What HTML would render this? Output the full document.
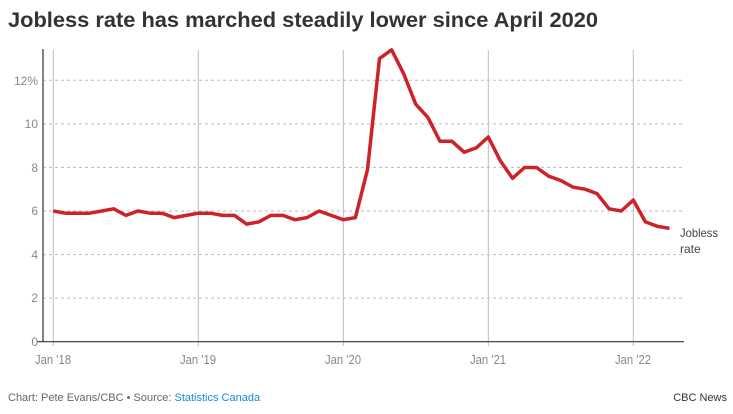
<!DOCTYPE html>
<html><head><meta charset="utf-8"><style>
body{margin:0;background:#fff;font-family:"Liberation Sans",sans-serif;}
</style></head><body>
<svg width="733" height="409" xmlns="http://www.w3.org/2000/svg" font-family="Liberation Sans, sans-serif">
<text x="8" y="27" font-size="21" font-weight="bold" fill="#333" textLength="590" lengthAdjust="spacingAndGlyphs">Jobless rate has marched steadily lower since April 2020</text>
<g stroke="#b6bec6" stroke-width="1" stroke-dasharray="3,3">
<line x1="43" x2="684" y1="80.3" y2="80.3"/><line x1="43" x2="684" y1="123.9" y2="123.9"/><line x1="43" x2="684" y1="167.4" y2="167.4"/><line x1="43" x2="684" y1="211" y2="211"/><line x1="43" x2="684" y1="254.6" y2="254.6"/><line x1="43" x2="684" y1="298.1" y2="298.1"/>
</g>
<g stroke="#b6bec6" stroke-width="1">
<line x1="53.3" x2="53.3" y1="50" y2="346"/><line x1="198.3" x2="198.3" y1="50" y2="346"/><line x1="343.3" x2="343.3" y1="50" y2="346"/><line x1="488.3" x2="488.3" y1="50" y2="346"/><line x1="633.3" x2="633.3" y1="50" y2="346"/>
</g>
<line x1="43" x2="43" y1="49" y2="341.7" stroke="#333" stroke-width="1.2"/>
<line x1="37" x2="684" y1="341.7" y2="341.7" stroke="#333" stroke-width="1.2"/>
<g font-size="12" fill="#888" text-anchor="end">
<text x="38" y="85">12%</text><text x="38" y="128">10</text><text x="38" y="172">8</text><text x="38" y="215">6</text><text x="38" y="259">4</text><text x="38" y="302">2</text><text x="38" y="346">0</text>
</g>
<g font-size="13" fill="#888" text-anchor="middle">
<text x="53" y="364" textLength="36" lengthAdjust="spacingAndGlyphs">Jan '18</text><text x="198" y="364" textLength="36" lengthAdjust="spacingAndGlyphs">Jan '19</text><text x="343" y="364" textLength="36" lengthAdjust="spacingAndGlyphs">Jan '20</text><text x="488" y="364" textLength="36" lengthAdjust="spacingAndGlyphs">Jan '21</text><text x="633" y="364" textLength="36" lengthAdjust="spacingAndGlyphs">Jan '22</text>
</g>
<polyline fill="none" stroke="#cc2229" stroke-width="3.5" stroke-linejoin="round" id="ln" points=""/>
<text x="680" y="237" font-size="12" fill="#444" textLength="38" lengthAdjust="spacingAndGlyphs">Jobless</text>
<text x="680" y="253" font-size="12" fill="#444">rate</text>
<text x="8" y="401" font-size="11" fill="#666">Chart: Pete Evans/CBC • Source: <tspan fill="#1a8ad4">Statistics Canada</tspan></text>
<text x="727" y="401" font-size="11" fill="#333" text-anchor="end">CBC News</text>
<script>
var d=[6.0,5.9,5.9,5.9,6.0,6.1,5.8,6.0,5.9,5.9,5.7,5.8,5.9,5.9,5.8,5.8,5.4,5.5,5.8,5.8,5.6,5.7,6.0,5.8,5.6,5.7,7.9,13.0,13.4,12.3,10.9,10.3,9.2,9.2,8.7,8.9,9.4,8.3,7.5,8.0,8.0,7.6,7.4,7.1,7.0,6.8,6.1,6.0,6.5,5.5,5.3,5.2];
var p=d.map(function(v,i){return (53.3+i*12.083).toFixed(1)+","+(341.7-v*21.78).toFixed(1)}).join(" ");
document.getElementById("ln").setAttribute("points",p);
</script>
</svg>
</body></html>
